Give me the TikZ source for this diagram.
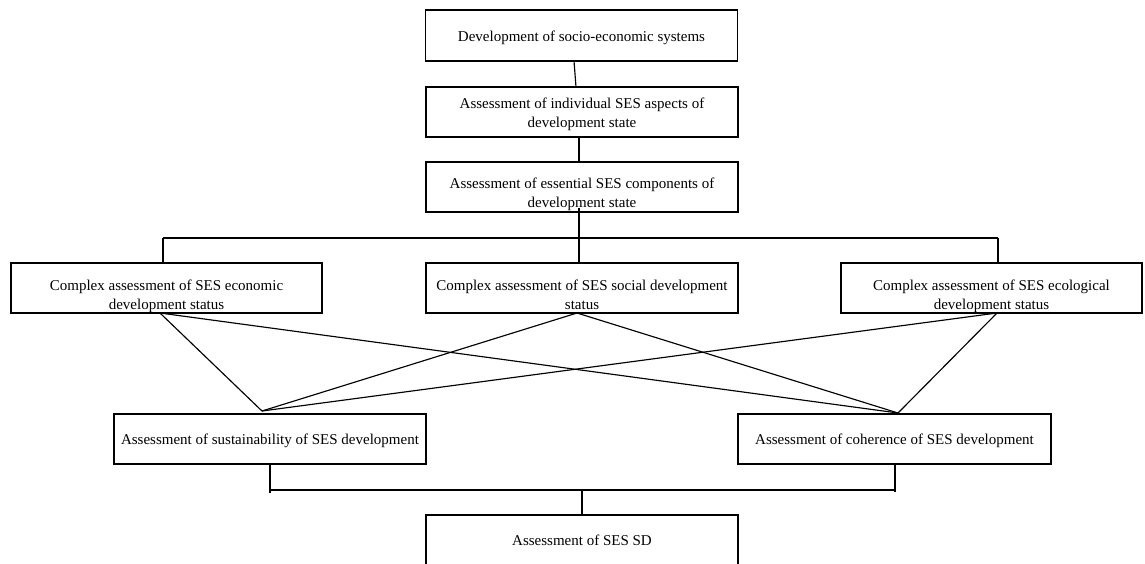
\documentclass[tikz,border=0pt]{standalone}
\usepackage{fontspec}
\setmainfont{Liberation Serif}
\newcommand\boxtext[2]{\raisebox{#1}[0pt][0pt]{\begin{tabular}{@{}c@{}}#2\end{tabular}}}
\begin{document}
\begin{tikzpicture}[x=1pt,y=-1pt,
  box/.style={draw,line width=1.15pt,inner sep=0pt,align=center,font=\fontsize{15}{19.5}\selectfont,anchor=center},
  ln/.style={line width=1.15pt}]
\useasboundingbox (0,0) rectangle (1145,563);
\node[box,minimum width=312pt,minimum height=51pt] (n1) at (581.5,35.5) {\boxtext{-5.75pt}{Development of socio-economic systems}};
\node[box,minimum width=312pt,minimum height=50pt] (n2) at (582,112) {\boxtext{-5.75pt}{Assessment of individual SES aspects of\\development state}};
\node[box,minimum width=312pt,minimum height=50pt] (n3) at (582,187) {\boxtext{-10.5pt}{Assessment of essential SES components of\\development state}};
\node[box,minimum width=311pt,minimum height=50pt] (econ) at (166.5,288) {\boxtext{-11.5pt}{Complex assessment of SES economic\\development status}};
\node[box,minimum width=312pt,minimum height=50pt] (soc) at (582,288) {\boxtext{-11.5pt}{Complex assessment of SES social development\\status}};
\node[box,minimum width=301pt,minimum height=50pt] (eco) at (991.5,288) {\boxtext{-11.5pt}{Complex assessment of SES ecological\\development status}};
\node[box,minimum width=312pt,minimum height=50pt] (sus) at (270,439) {\boxtext{-5.25pt}{Assessment of sustainability of SES development}};
\node[box,minimum width=313pt,minimum height=50pt] (coh) at (894.5,439) {\boxtext{-5.25pt}{Assessment of coherence of SES development}};
\node[box,minimum width=312pt,minimum height=54pt] (sd) at (582,542) {\boxtext{-3.25pt}{Assessment of SES SD}};
% top chain
\coordinate (a1) at (574,61);
\coordinate (a2) at (576,87);
\draw[ln] (a1) -- (a2);
\draw[ln] (n2.south -| 579,0) -- (n3.north -| 579,0);
\coordinate (bar) at (579,238);
\coordinate (barL) at (163,238);
\coordinate (barR) at (998,238);
\draw[ln] (579,208) -- (bar);
\draw[ln] (barL) -- (barR);
\draw[ln] (barL) -- (econ.north -| barL);
\draw[ln] (barR) -- (eco.north -| barR);
\draw[ln] (bar) -- (soc.north -| bar);
% crossing lines
\coordinate (pE) at (160,313);
\coordinate (pS) at (577,313);
\coordinate (pC) at (997,313);
\coordinate (qS) at (262,411);
\coordinate (qC) at (898,413);
\draw[ln] (pE) -- (qS);
\draw[ln] (pE) -- (qC);
\draw[ln] (pS) -- (qS);
\draw[ln] (pS) -- (qC);
\draw[ln] (pC) -- (qS);
\draw[ln] (pC) -- (qC);
% bottom
\coordinate (bL) at (270,490);
\coordinate (bR) at (895,490);
\coordinate (bM) at (582,490);
\draw[ln] (sus.south -| bL) -- (270,493);
\draw[ln] (coh.south -| bR) -- (895,492);
\draw[ln] (bL) -- (bR);
\draw[ln] (bM) -- (sd.north);
\end{tikzpicture}
\end{document}
